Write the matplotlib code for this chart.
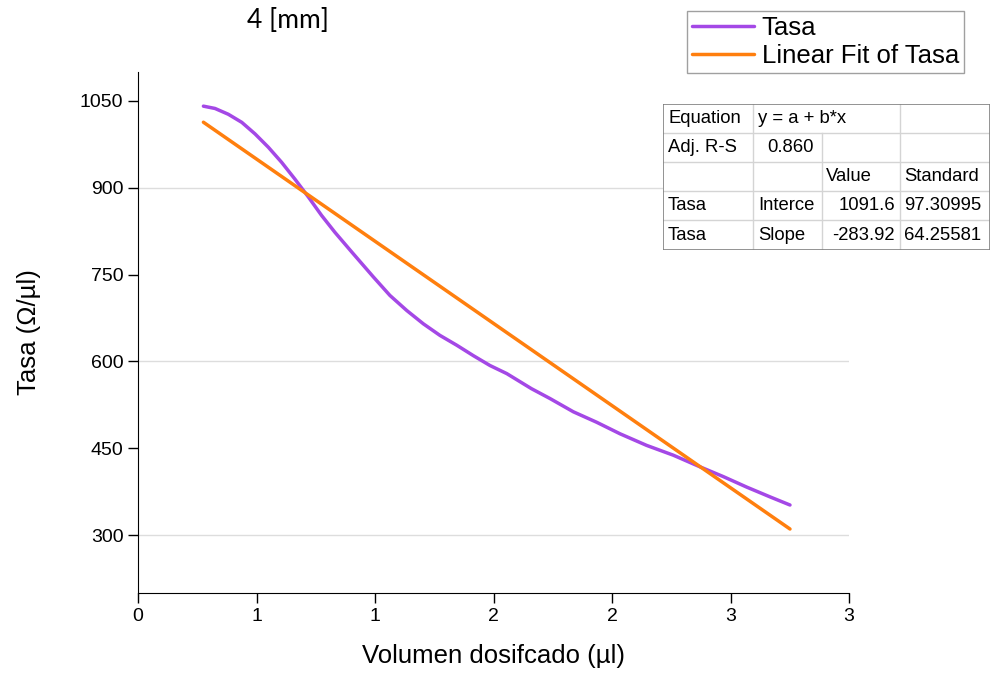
import matplotlib
matplotlib.use("Agg")
import matplotlib.pyplot as plt

plt.rcParams['font.family'] = ['Liberation Sans', 'DejaVu Sans']

# Tasa curve
vol = [0.276, 0.325, 0.381, 0.438, 0.494, 0.550, 0.606, 0.662, 0.719, 0.775,
       0.831, 0.902, 0.993, 1.063, 1.134, 1.204, 1.274, 1.345, 1.415, 1.485,
       1.556, 1.660, 1.738, 1.837, 1.935, 2.034, 2.146, 2.259, 2.371, 2.470,
       2.568, 2.667, 2.751]
tasa = [1041, 1037, 1027, 1013, 993, 970, 944, 915, 884, 852,
        823, 789, 746, 714, 688, 665, 645, 628, 610, 593,
        579, 553, 536, 513, 495, 475, 455, 438, 418, 401,
        383, 366, 352]

# linear fit parameters (from the table)
intercept = 1091.6
slope = -283.92
intercept_se = 97.30995
slope_se = 64.25581
adj_r2 = 0.860

xticks = [0, 0.5, 1, 1.5, 2, 2.5, 3]
xtick_labels = ['0', '1', '1', '2', '2', '3', '3']
yticks = [300, 450, 600, 750, 900, 1050]
grid_y = [300, 600, 900]

purple = '#a448e6'
orange = '#ff7f0e'

fig = plt.figure(figsize=(9.93, 6.78), dpi=100)
W, H = 993, 678


def fig_box(x0, y0, x1, y1):
    # pixel box (top-left origin) -> figure fraction rect
    return [x0 / W, 1 - y1 / H, (x1 - x0) / W, (y1 - y0) / H]


ax = fig.add_axes(fig_box(138, 72, 849, 593))

for g in grid_y:
    ax.axhline(g, color='#dddddd', lw=1, zorder=0)

l1, = ax.plot(vol, tasa, color=purple, lw=2.5, label='Tasa',
              solid_capstyle='round', solid_joinstyle='round')
fit_x = [vol[0], vol[-1]]
fit_y = [intercept + slope * v for v in fit_x]
l2, = ax.plot(fit_x, fit_y, color=orange, lw=2.5, label='Linear Fit of Tasa',
              solid_capstyle='round')

ax.set_xlim(0, 3)
ax.set_ylim(200, 1100)
ax.set_xticks(xticks)
ax.set_xticklabels(xtick_labels)
ax.set_yticks(yticks)
ax.tick_params(labelsize=14, length=7, width=1, direction='out')
ax.spines['top'].set_visible(False)
ax.spines['right'].set_visible(False)
ax.set_xlabel('Volumen dosifcado (µl)', fontsize=18.5, labelpad=14)
ax.set_ylabel('Tasa (Ω/µl)', fontsize=18.5, labelpad=28)

fig.text(288 / W, 1 - 20 / H, '4 [mm]', family='Lato', fontsize=19,
         ha='center', va='center')

leg = fig.legend(handles=[l1, l2], loc='upper left',
                 bbox_to_anchor=(687 / W, 1 - 11 / H), fontsize=18.5,
                 frameon=True, fancybox=False, edgecolor='#888888',
                 handlelength=2.4, handletextpad=0.3, borderpad=0.2,
                 labelspacing=0.15, borderaxespad=0)
leg.get_frame().set_linewidth(1)

# fit results table
tx = fig.add_axes(fig_box(663, 104, 990, 250))
tx.set_xlim(663, 990)
tx.set_ylim(250, 104)
tx.axis('off')
tx.add_patch(plt.Rectangle((663, 104), 327, 146, facecolor='white',
                           edgecolor='none', zorder=0))
rows = [104, 133, 162, 191, 220, 250]
cols = [663, 753, 822, 900, 990]
for r in rows[1:-1]:
    tx.plot([663, 990], [r, r], color='#d4d4d4', lw=1)
for c in cols[1:-1]:
    top = rows[1] if c == 822 else rows[0]
    tx.plot([c, c], [top, 250], color='#d4d4d4', lw=1)
tx.plot([663, 990, 990, 663, 663], [104, 104, 250, 250, 104],
        color='#808080', lw=1.2)

fs = 13.3
cells = [
    (0, 668, 'Equation', 'left'), (0, 758, 'y = a + b*x', 'left'),
    (1, 668, 'Adj. R-S', 'left'), (1, 814, f'{adj_r2:.3f}', 'right'),
    (2, 826, 'Value', 'left'), (2, 904, 'Standard', 'left'),
    (3, 668, 'Tasa', 'left'), (3, 758, 'Interce', 'left'),
    (3, 895, f'{intercept}', 'right'), (3, 904, f'{intercept_se}', 'left'),
    (4, 668, 'Tasa', 'left'), (4, 758, 'Slope', 'left'),
    (4, 895, f'{slope}', 'right'), (4, 904, f'{slope_se}', 'left'),
]
for r, x, s, ha in cells:
    yc = (rows[r] + rows[r + 1]) / 2
    tx.text(x, yc, s, fontsize=fs, ha=ha, va='center')

fig.savefig('out.png', dpi=100)
